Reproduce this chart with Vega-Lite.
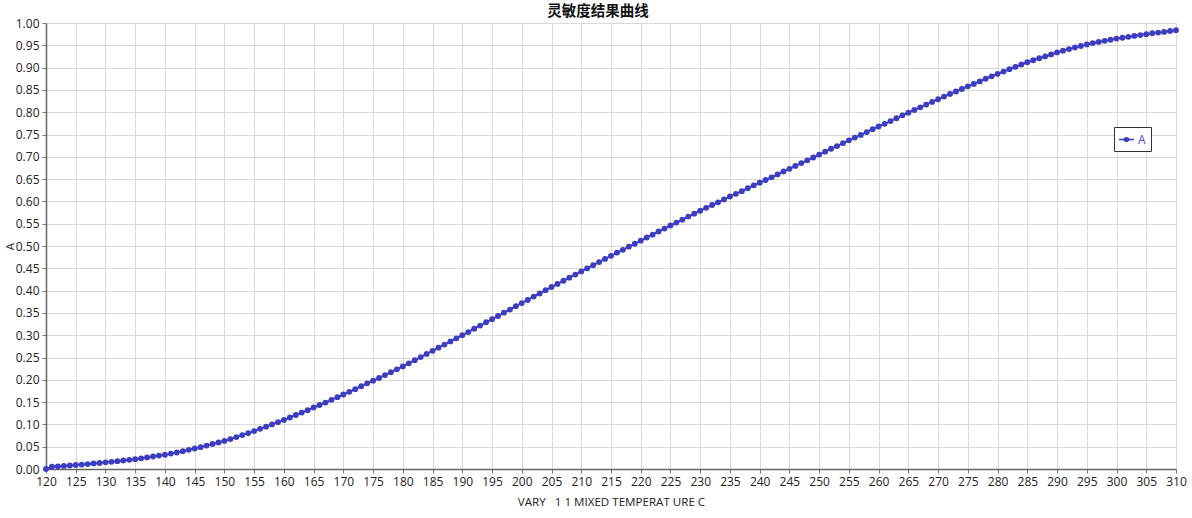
{
  "$schema": "https://vega.github.io/schema/vega-lite/v6.json",
  "width": 1130,
  "height": 446,
  "autosize": {"type": "none"},
  "padding": {"left": 46, "top": 23, "right": 16, "bottom": 49},
  "background": "white",
  "title": {"text": "灵敏度结果曲线", "font": "Noto Sans CJK SC", "fontSize": 14.5, "fontWeight": "bold", "color": "#111", "anchor": "middle", "offset": -2, "dx": -13},
  "config": {
    "view": {"stroke": null},
    "axis": {"labelFont": "Open Sans", "titleFont": "Open Sans", "labelFontSize": 12, "titleFontSize": 11.6, "titleFontWeight": "normal", "labelColor": "#222", "titleColor": "#222", "gridColor": "#d9d9d9", "gridWidth": 1, "domainColor": "#666", "domainWidth": 1.5, "tickColor": "#777", "tickSize": 4}
  },
  "data": {"values": [
    {"x":120,"y":0.000,"s":"A"},{"x":121,"y":0.005,"s":"A"},{"x":122,"y":0.006,"s":"A"},{"x":123,"y":0.007,"s":"A"},{"x":124,"y":0.008,"s":"A"},{"x":125,"y":0.009,"s":"A"},
    {"x":126,"y":0.010,"s":"A"},{"x":127,"y":0.011,"s":"A"},{"x":128,"y":0.0125,"s":"A"},{"x":129,"y":0.0135,"s":"A"},{"x":130,"y":0.015,"s":"A"},
    {"x":131,"y":0.016,"s":"A"},{"x":132,"y":0.0175,"s":"A"},{"x":133,"y":0.019,"s":"A"},{"x":134,"y":0.0205,"s":"A"},{"x":135,"y":0.022,"s":"A"},
    {"x":136,"y":0.024,"s":"A"},{"x":137,"y":0.026,"s":"A"},{"x":138,"y":0.028,"s":"A"},{"x":139,"y":0.030,"s":"A"},{"x":140,"y":0.032,"s":"A"},
    {"x":141,"y":0.0345,"s":"A"},{"x":142,"y":0.037,"s":"A"},{"x":143,"y":0.040,"s":"A"},{"x":144,"y":0.043,"s":"A"},{"x":145,"y":0.046,"s":"A"},
    {"x":146,"y":0.049,"s":"A"},{"x":147,"y":0.0525,"s":"A"},{"x":148,"y":0.056,"s":"A"},{"x":149,"y":0.0595,"s":"A"},{"x":150,"y":0.063,"s":"A"},
    {"x":151,"y":0.067,"s":"A"},{"x":152,"y":0.0715,"s":"A"},{"x":153,"y":0.076,"s":"A"},{"x":154,"y":0.0805,"s":"A"},{"x":155,"y":0.085,"s":"A"},
    {"x":156,"y":0.090,"s":"A"},{"x":157,"y":0.095,"s":"A"},{"x":158,"y":0.100,"s":"A"},{"x":159,"y":0.105,"s":"A"},{"x":160,"y":0.110,"s":"A"},
    {"x":161,"y":0.1155,"s":"A"},{"x":162,"y":0.121,"s":"A"},{"x":163,"y":0.1265,"s":"A"},{"x":164,"y":0.132,"s":"A"},{"x":165,"y":0.138,"s":"A"},
    {"x":166,"y":0.1435,"s":"A"},{"x":167,"y":0.149,"s":"A"},{"x":168,"y":0.155,"s":"A"},{"x":169,"y":0.161,"s":"A"},{"x":170,"y":0.167,"s":"A"},
    {"x":171,"y":0.173,"s":"A"},{"x":172,"y":0.179,"s":"A"},{"x":173,"y":0.1855,"s":"A"},{"x":174,"y":0.192,"s":"A"},{"x":175,"y":0.198,"s":"A"},
    {"x":176,"y":0.204,"s":"A"},{"x":177,"y":0.2105,"s":"A"},{"x":178,"y":0.217,"s":"A"},{"x":179,"y":0.2235,"s":"A"},{"x":180,"y":0.230,"s":"A"},
    {"x":181,"y":0.237,"s":"A"},{"x":182,"y":0.244,"s":"A"},{"x":183,"y":0.251,"s":"A"},{"x":184,"y":0.258,"s":"A"},{"x":185,"y":0.265,"s":"A"},
    {"x":186,"y":0.272,"s":"A"},{"x":187,"y":0.279,"s":"A"},{"x":188,"y":0.286,"s":"A"},{"x":189,"y":0.293,"s":"A"},{"x":190,"y":0.300,"s":"A"},
    {"x":191,"y":0.307,"s":"A"},{"x":192,"y":0.3145,"s":"A"},{"x":193,"y":0.3215,"s":"A"},{"x":194,"y":0.329,"s":"A"},{"x":195,"y":0.336,"s":"A"},
    {"x":196,"y":0.343,"s":"A"},{"x":197,"y":0.3505,"s":"A"},{"x":198,"y":0.3575,"s":"A"},{"x":199,"y":0.365,"s":"A"},{"x":200,"y":0.372,"s":"A"},
    {"x":201,"y":0.379,"s":"A"},{"x":202,"y":0.3865,"s":"A"},{"x":203,"y":0.3935,"s":"A"},{"x":204,"y":0.401,"s":"A"},{"x":205,"y":0.408,"s":"A"},
    {"x":206,"y":0.415,"s":"A"},{"x":207,"y":0.422,"s":"A"},{"x":208,"y":0.429,"s":"A"},{"x":209,"y":0.436,"s":"A"},{"x":210,"y":0.443,"s":"A"},
    {"x":211,"y":0.450,"s":"A"},{"x":212,"y":0.457,"s":"A"},{"x":213,"y":0.464,"s":"A"},{"x":214,"y":0.471,"s":"A"},{"x":215,"y":0.478,"s":"A"},
    {"x":216,"y":0.485,"s":"A"},{"x":217,"y":0.4915,"s":"A"},{"x":218,"y":0.4985,"s":"A"},{"x":219,"y":0.505,"s":"A"},{"x":220,"y":0.512,"s":"A"},
    {"x":221,"y":0.519,"s":"A"},{"x":222,"y":0.5255,"s":"A"},{"x":223,"y":0.5325,"s":"A"},{"x":224,"y":0.539,"s":"A"},{"x":225,"y":0.546,"s":"A"},
    {"x":226,"y":0.5525,"s":"A"},{"x":227,"y":0.559,"s":"A"},{"x":228,"y":0.566,"s":"A"},{"x":229,"y":0.5725,"s":"A"},{"x":230,"y":0.579,"s":"A"},
    {"x":231,"y":0.5855,"s":"A"},{"x":232,"y":0.592,"s":"A"},{"x":233,"y":0.598,"s":"A"},{"x":234,"y":0.6045,"s":"A"},{"x":235,"y":0.611,"s":"A"},
    {"x":236,"y":0.617,"s":"A"},{"x":237,"y":0.623,"s":"A"},{"x":238,"y":0.6295,"s":"A"},{"x":239,"y":0.636,"s":"A"},{"x":240,"y":0.642,"s":"A"},
    {"x":241,"y":0.648,"s":"A"},{"x":242,"y":0.654,"s":"A"},{"x":243,"y":0.6605,"s":"A"},{"x":244,"y":0.667,"s":"A"},{"x":245,"y":0.673,"s":"A"},
    {"x":246,"y":0.6795,"s":"A"},{"x":247,"y":0.686,"s":"A"},{"x":248,"y":0.692,"s":"A"},{"x":249,"y":0.6985,"s":"A"},{"x":250,"y":0.705,"s":"A"},
    {"x":251,"y":0.7115,"s":"A"},{"x":252,"y":0.718,"s":"A"},{"x":253,"y":0.724,"s":"A"},{"x":254,"y":0.7305,"s":"A"},{"x":255,"y":0.737,"s":"A"},
    {"x":256,"y":0.743,"s":"A"},{"x":257,"y":0.749,"s":"A"},{"x":258,"y":0.7555,"s":"A"},{"x":259,"y":0.762,"s":"A"},{"x":260,"y":0.768,"s":"A"},
    {"x":261,"y":0.774,"s":"A"},{"x":262,"y":0.780,"s":"A"},{"x":263,"y":0.7865,"s":"A"},{"x":264,"y":0.793,"s":"A"},{"x":265,"y":0.799,"s":"A"},
    {"x":266,"y":0.805,"s":"A"},{"x":267,"y":0.811,"s":"A"},{"x":268,"y":0.817,"s":"A"},{"x":269,"y":0.823,"s":"A"},{"x":270,"y":0.829,"s":"A"},
    {"x":271,"y":0.835,"s":"A"},{"x":272,"y":0.841,"s":"A"},{"x":273,"y":0.8465,"s":"A"},{"x":274,"y":0.852,"s":"A"},{"x":275,"y":0.858,"s":"A"},
    {"x":276,"y":0.8635,"s":"A"},{"x":277,"y":0.869,"s":"A"},{"x":278,"y":0.875,"s":"A"},{"x":279,"y":0.8805,"s":"A"},{"x":280,"y":0.886,"s":"A"},
    {"x":281,"y":0.891,"s":"A"},{"x":282,"y":0.8965,"s":"A"},{"x":283,"y":0.9015,"s":"A"},{"x":284,"y":0.907,"s":"A"},{"x":285,"y":0.912,"s":"A"},
    {"x":286,"y":0.9165,"s":"A"},{"x":287,"y":0.921,"s":"A"},{"x":288,"y":0.925,"s":"A"},{"x":289,"y":0.9295,"s":"A"},{"x":290,"y":0.934,"s":"A"},
    {"x":291,"y":0.938,"s":"A"},{"x":292,"y":0.9415,"s":"A"},{"x":293,"y":0.945,"s":"A"},{"x":294,"y":0.9485,"s":"A"},{"x":295,"y":0.952,"s":"A"},
    {"x":296,"y":0.955,"s":"A"},{"x":297,"y":0.9575,"s":"A"},{"x":298,"y":0.960,"s":"A"},{"x":299,"y":0.9625,"s":"A"},{"x":300,"y":0.965,"s":"A"},
    {"x":301,"y":0.967,"s":"A"},{"x":302,"y":0.969,"s":"A"},{"x":303,"y":0.971,"s":"A"},{"x":304,"y":0.973,"s":"A"},{"x":305,"y":0.975,"s":"A"},
    {"x":306,"y":0.977,"s":"A"},{"x":307,"y":0.9785,"s":"A"},{"x":308,"y":0.980,"s":"A"},{"x":309,"y":0.982,"s":"A"},{"x":310,"y":0.984,"s":"A"}
  ]},
  "mark": {"type": "line", "strokeWidth": 2, "point": {"filled": true, "size": 34}},
  "encoding": {
    "x": {"field": "x", "type": "quantitative", "scale": {"domain": [120, 310], "nice": false, "zero": false},
      "axis": {"title": "VARY\u00a0\u00a0\u00a01 1 MIXED TEMPERAT URE C", "values": [120,125,130,135,140,145,150,155,160,165,170,175,180,185,190,195,200,205,210,215,220,225,230,235,240,245,250,255,260,265,270,275,280,285,290,295,300,305,310], "labelPadding": 3, "titlePadding": 9, "labelFlush": false}},
    "y": {"field": "y", "type": "quantitative", "scale": {"domain": [0, 1], "nice": false},
      "axis": {"title": "A", "format": ".2f", "values": [0,0.05,0.1,0.15,0.2,0.25,0.3,0.35,0.4,0.45,0.5,0.55,0.6,0.65,0.7,0.75,0.8,0.85,0.9,0.95,1], "labelPadding": 3, "titlePadding": 0}},
    "color": {"field": "s", "type": "nominal", "scale": {"range": ["#3d3dc2"]},
      "legend": {"title": null, "orient": "none", "legendX": 1068, "legendY": 104, "padding": 5, "strokeColor": "#333", "fillColor": "white", "labelFont": "Open Sans", "labelFontSize": 12, "labelColor": "#4848d0", "labelOffset": 4, "symbolType": "M-1,-0.1L-0.4,-0.1A0.45,0.45,0,0,1,0.4,-0.1L1,-0.1L1,0.1L0.4,0.1A0.45,0.45,0,0,1,-0.4,0.1L-1,0.1Z", "symbolSize": 225, "symbolFillColor": "#3d3dc2", "symbolStrokeWidth": 0, "symbolOpacity": 1}}
  }
}
